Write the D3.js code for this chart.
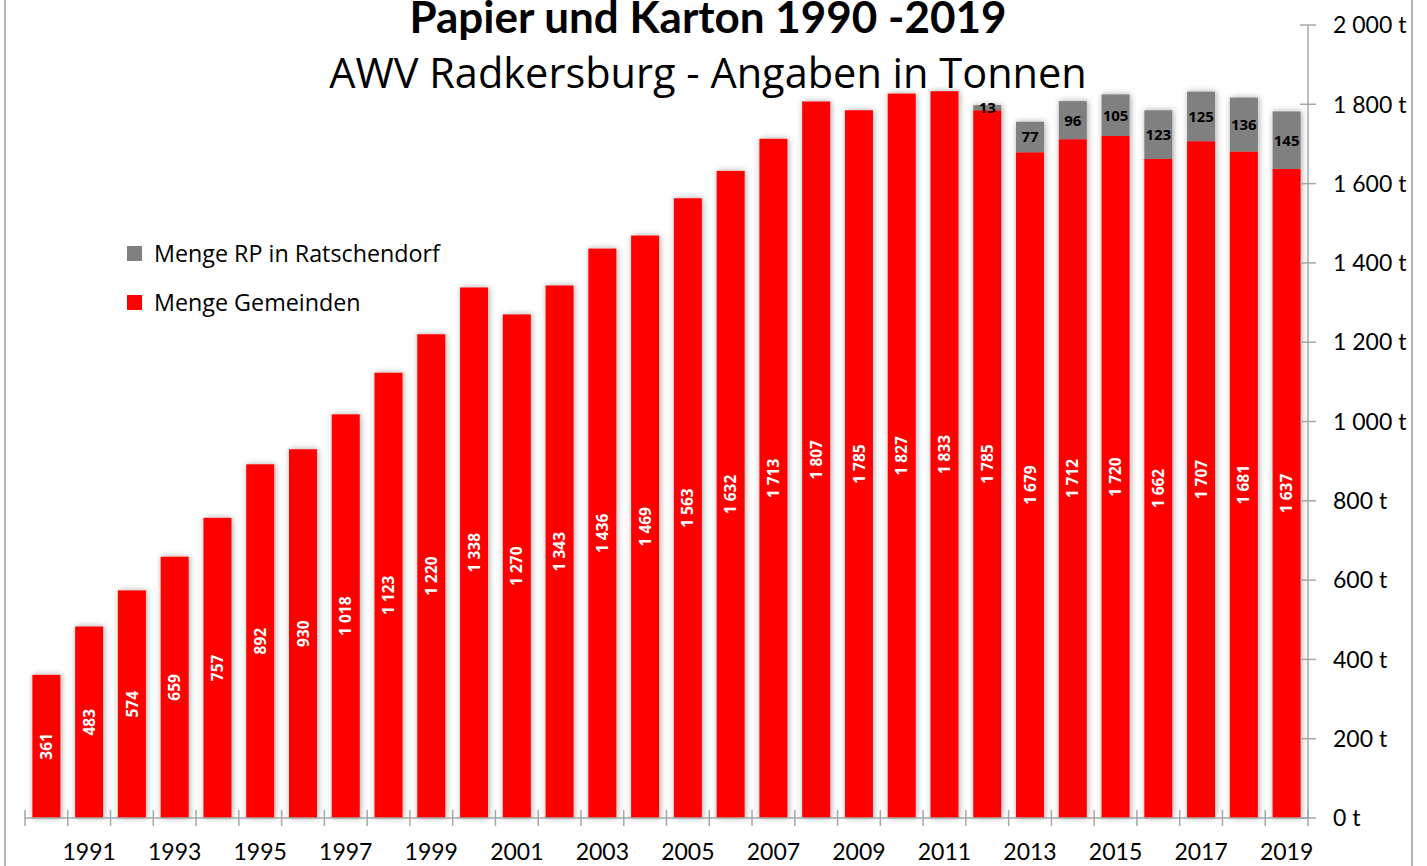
<!DOCTYPE html>
<html>
<head>
<meta charset="utf-8">
<script src="https://cdn.jsdelivr.net/npm/d3@7"></script>
<style>
body{margin:0;background:#fff;}
svg{display:block;}
</style>
</head>
<body>
<script>
var canvaswidth=1427;
var canvasheight=866;

// data
var years=[1990,1991,1992,1993,1994,1995,1996,1997,1998,1999,2000,2001,2002,2003,2004,2005,2006,2007,2008,2009,2010,2011,2012,2013,2014,2015,2016,2017,2018,2019];
var gemeinden=[361,483,574,659,757,892,930,1018,1123,1220,1338,1270,1343,1436,1469,1563,1632,1713,1807,1785,1827,1833,1785,1679,1712,1720,1662,1707,1681,1637];
var ratschendorf=[0,0,0,0,0,0,0,0,0,0,0,0,0,0,0,0,0,0,0,0,0,0,13,77,96,105,123,125,136,145];
var yticks=[0,200,400,600,800,1000,1200,1400,1600,1800,2000];
var labelYears=[1991,1993,1995,1997,1999,2001,2003,2005,2007,2009,2011,2013,2015,2017,2019];

var red="#ff0000", grey="#808080", axisgrey="#a6a6a6";
var fmt=d3.formatLocale({decimal:",",thousands:" ",grouping:[3],currency:["",""]}).format(",");

var svg=d3.select("body").append("svg").attr("width",canvaswidth).attr("height",canvasheight);

var defs=svg.append("defs");
var f=defs.append("filter").attr("id","shadow").attr("x","-50%").attr("y","-10%").attr("width","200%").attr("height","120%");
f.append("feDropShadow").attr("dx",1).attr("dy",0).attr("stdDeviation",3).attr("flood-color","#000").attr("flood-opacity",0.35);

// outer frame lines
svg.append("line").attr("x1",5).attr("x2",5).attr("y1",0).attr("y2",canvasheight).attr("stroke","#b4b4b4").attr("stroke-width",2);
svg.append("line").attr("x1",1412).attr("x2",1412).attr("y1",0).attr("y2",canvasheight).attr("stroke","#b4b4b4").attr("stroke-width",2);

var x=d3.scaleBand().domain(years).range([25,1308]).paddingInner(0.345).paddingOuter(0.1725);
var y=d3.scaleLinear().domain([0,2000]).range([818,25]);
var bw=x.bandwidth();
var step=x.step();

var rows=years.map(function(yr,i){return {year:yr,g:gemeinden[i],r:ratschendorf[i]};});

// bars
var bars=svg.append("g").attr("filter","url(#shadow)");
bars.selectAll("rect.g").data(rows).enter().append("rect")
  .attr("x",function(d){return x(d.year);}).attr("width",bw)
  .attr("y",function(d){return y(d.g);}).attr("height",function(d){return y(0)-y(d.g);})
  .attr("fill",red);
bars.selectAll("rect.r").data(rows.filter(function(d){return d.r>0;})).enter().append("rect")
  .attr("x",function(d){return x(d.year);}).attr("width",bw)
  .attr("y",function(d){return y(d.g+d.r);}).attr("height",function(d){return y(d.g)-y(d.g+d.r);})
  .attr("fill",grey);

// value labels
svg.selectAll("text.gl").data(rows).enter().append("text")
  .attr("transform",function(d){return "translate("+(x(d.year)+bw/2)+","+y(d.g/2)+") rotate(-90)";})
  .attr("text-anchor","middle").attr("dy","0.36em")
  .attr("font-family","Open Sans").attr("font-weight","bold").attr("font-size",15.5).attr("fill","#fff")
  .text(function(d){return fmt(d.g);});
svg.selectAll("text.rl").data(rows.filter(function(d){return d.r>0;})).enter().append("text")
  .attr("x",function(d){return x(d.year)+bw/2;}).attr("y",function(d){return y(d.g+d.r/2);})
  .attr("text-anchor","middle").attr("dy","0.36em")
  .attr("font-family","Open Sans").attr("font-weight","bold").attr("font-size",15).attr("fill","#000")
  .text(function(d){return fmt(d.r);});

// x axis
var xa=svg.append("g");
xa.append("line").attr("x1",25).attr("x2",1308).attr("y1",y(0)).attr("y2",y(0)).attr("stroke",axisgrey).attr("stroke-width",1.5);
var bounds=years.map(function(yr){return x(yr)-step*x.paddingInner()/2;}).concat([1308]);
xa.selectAll("line.t").data(bounds).enter().append("line")
  .attr("x1",function(d){return d;}).attr("x2",function(d){return d;})
  .attr("y1",y(0)-8).attr("y2",y(0)+8).attr("stroke",axisgrey).attr("stroke-width",1.5);
xa.selectAll("text").data(labelYears).enter().append("text")
  .attr("x",function(d){return x(d)+bw/2;}).attr("y",860)
  .attr("text-anchor","middle").attr("font-family","Lato").attr("font-size",23).attr("fill","#000")
  .text(function(d){return d;});

// y axis (right)
var ya=svg.append("g");
ya.append("line").attr("x1",1308).attr("x2",1308).attr("y1",y(0)).attr("y2",y(2000)).attr("stroke",axisgrey).attr("stroke-width",1.5);
ya.selectAll("line.t").data(yticks).enter().append("line")
  .attr("x1",1300).attr("x2",1316).attr("y1",function(d){return y(d);}).attr("y2",function(d){return y(d);})
  .attr("stroke",axisgrey).attr("stroke-width",1.5);
ya.selectAll("text").data(yticks).enter().append("text")
  .attr("x",1333).attr("y",function(d){return y(d);}).attr("dy","0.36em")
  .attr("font-family","Lato").attr("font-size",23).attr("fill","#000")
  .text(function(d){return fmt(d)+" t";});

// titles
svg.append("text").attr("x",708).attr("y",33).attr("text-anchor","middle")
  .attr("font-family","Lato").attr("font-weight","bold").attr("font-size",44).attr("fill","#000")
  .text("Papier und Karton 1990 -2019");
svg.append("text").attr("x",708).attr("y",88).attr("text-anchor","middle")
  .attr("font-family","Open Sans").attr("font-size",41.5).attr("fill","#000")
  .text("AWV Radkersburg - Angaben in Tonnen");

// legend
var legend=[{name:"Menge RP in Ratschendorf",color:grey},{name:"Menge Gemeinden",color:red}];
var lg=svg.selectAll("g.leg").data(legend).enter().append("g")
  .attr("transform",function(d,i){return "translate(127,"+(246+i*49)+")";});
lg.append("rect").attr("width",15).attr("height",15).attr("fill",function(d){return d.color;});
lg.append("text").attr("x",27).attr("y",8).attr("dy","0.36em")
  .attr("font-family","Open Sans").attr("font-size",23.3).attr("fill","#000")
  .text(function(d){return d.name;});
</script>
</body>
</html>
